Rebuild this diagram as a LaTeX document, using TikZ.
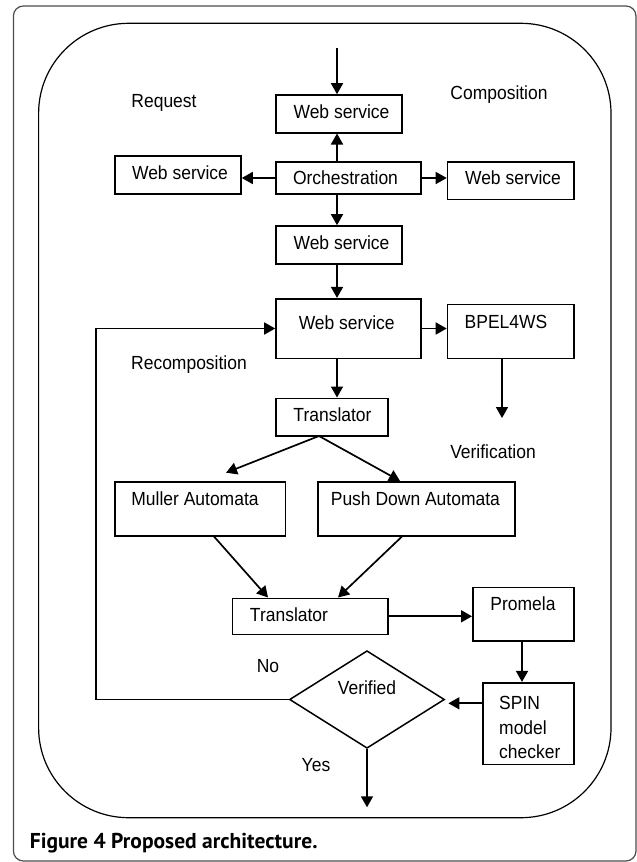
\documentclass[tikz,border=0pt]{standalone}
\usepackage{fontspec}
\setmainfont[FakeStretch=0.92]{Liberation Sans}
\newfontfamily\capfont{PT Sans}
\usetikzlibrary{arrows.meta,shapes.geometric,fit,calc}
\begin{document}
\begin{tikzpicture}[x=1pt,y=-1pt,
  every node/.style={font=\fontsize{19}{22}\selectfont, inner sep=0pt},
  box/.style={draw, line width=1.6pt, inner sep=0pt},
  txt/.style={text height=0.72em, text depth=0pt},
  arr/.style={line width=1.7pt, -{Triangle[length=11pt,width=12pt]}},
  ln/.style={line width=1.7pt}]
\useasboundingbox (0,0) rectangle (637,862);
% frames
\draw[line width=1.2pt, black!70, rounded corners=10pt] (13.4,6) rectangle (636,861);
\draw[line width=1.2pt, rounded corners=90pt] (38.6,23.3) rectangle (611,817.7);
% boxes
\node[box, fit={(276,95) (402,132.7)}] (ws1) {};
\node[box, fit={(115,156) (241,194)}] (wsl) {};
\node[box, fit={(276,162) (421,194)}] (orch) {};
\node[box, fit={(447.5,162) (574,199.3)}] (wsr) {};
\node[box, fit={(276,226) (402,264)}] (ws2) {};
\node[box, fit={(276,298.7) (421,358.3)}] (ws3) {};
\node[box, fit={(447.5,304.3) (574,358.3)}] (bpel) {};
\node[box, fit={(276,398.3) (388,436)}] (tr1) {};
\node[box, fit={(115,481.7) (285.6,535.7)}] (mul) {};
\node[box, fit={(318,481.7) (515,535.7)}] (pda) {};
\node[box, fit={(232.5,598.3) (388,634.3)}] (tr2) {};
\node[box, fit={(472.8,587.3) (574,640.7)}] (prom) {};
\node[box, fit={(483,682.7) (574,764.3)}] (spin) {};
\node[draw, line width=1.5pt, diamond, minimum width=155pt, minimum height=97.6pt, inner sep=0pt] (ver) at (367,699.5) {};
% box texts
\node[txt] (ws1t) at (341.5,115) {Web service};
\node[txt] (wslt) at (180,176) {Web service};
\node[txt] (orcht) at (345.5,181) {Orchestration};
\node[txt] (wsrt) at (513,181) {Web service};
\node[txt] (ws2t) at (341.5,246) {Web service};
\node[txt] (ws3t) at (346.7,326) {Web service};
\node[txt] (bpelt) at (506,325) {BPEL4WS};
\node[txt] (tr1t) at (332.5,417.7) {Translator};
\node[txt] (mult) at (195,501.7) {Muller Automata};
\node[txt] (pdat) at (415.4,501.7) {Push Down Automata};
\node[txt] (tr2t) at (289,618) {Translator};
\node[txt] (promt) at (523,606.7) {Promela};
\node[anchor=west, align=left, font=\fontsize{19}{24.2}\selectfont] (spint) at (499,727.5) {SPIN\\model\\checker};
\node[txt] (vert) at (367,690.7) {Verified};
% free labels
\node[txt] (lreq) at (164,104) {Request};
\node[txt] (lcomp) at (499,96) {Composition};
\node[txt] (lrecomp) at (189,366) {Recomposition};
\node[txt] (lverif) at (493,455) {Verification};
\node[txt] (lno) at (268,669.3) {No};
\node[txt] (lyes) at (316,768.3) {Yes};
% auxiliary coordinates
\coordinate (in) at (337,48);
\coordinate (bpelend) at (502,418);
\coordinate (trsplit) at (319,436);
\coordinate (mulend) at (226,472.7);
\coordinate (loop) at (96,0);
\coordinate (out) at (367,807.3);
% connectors
\draw[arr] (in) -- (in |- ws1.north);
\draw[arr] (orch.north -| in) -- (ws1.south -| in);
\draw[arr] (orch.west) -- (orch.west -| wsl.east);
\draw[arr] (orch.east) -- (orch.east -| wsr.west);
\draw[arr] (orch.south -| in) -- (ws2.north -| in);
\draw[arr] (ws2.south -| in) -- (ws3.north -| in);
\draw[arr] (ws3.east) -- (ws3.east -| bpel.west);
\draw[arr] (bpel.south -| bpelend) -- (bpelend);
\draw[arr] (ws3.south -| in) -- (tr1.north -| in);
\draw[arr] (trsplit) -- (mulend);
\draw[arr] (trsplit) -- (pda.north -| 400,0);
\draw[arr] (mul.south -| 214,0) -- (tr2.north -| 268,0);
\draw[arr] (pda.south -| 402,0) -- (tr2.north -| 338,0);
\draw[arr] (tr2.east) -- (tr2.east -| prom.west);
\draw[arr] (prom.south -| 522,0) -- (spin.north -| 522,0);
\draw[arr] (spin.west |- 0,703.3) -- (448.4,703.3);
\draw[arr] (ver.west) -- (ver.west -| loop) |- (ws3.west);
\draw[arr] (ver.south) -- (out);
% caption
\node[anchor=west, font=\capfont\bfseries\fontsize{21.5}{24}\selectfont, text height=0.72em, text depth=0pt] (cap) at (29.7,845) {Figure 4 Proposed architecture.};
\end{tikzpicture}
\end{document}
